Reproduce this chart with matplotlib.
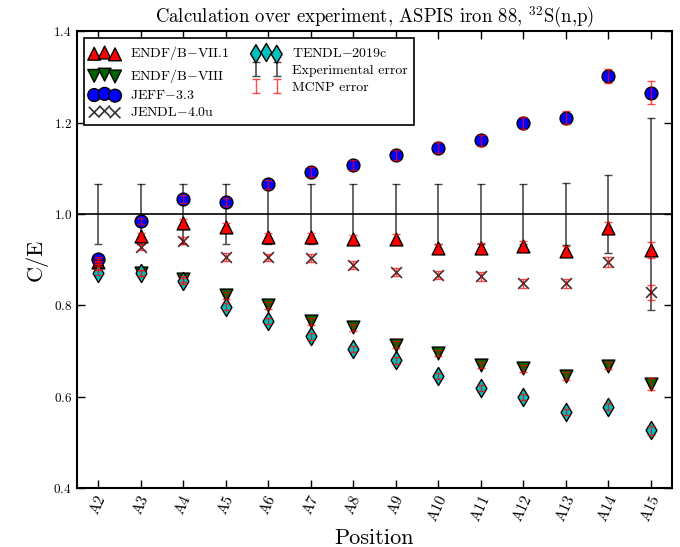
import numpy as np
import matplotlib
matplotlib.use("Agg")
import matplotlib.pyplot as plt

plt.rcParams["font.family"] = "serif"
plt.rcParams["font.serif"] = ["cmr10"]
plt.rcParams["mathtext.fontset"] = "cm"
plt.rcParams["axes.formatter.use_mathtext"] = True

positions = ["A2", "A3", "A4", "A5", "A6", "A7", "A8", "A9",
             "A10", "A11", "A12", "A13", "A14", "A15"]

endf71 = [0.895, 0.951, 0.981, 0.972, 0.950, 0.949, 0.945, 0.946,
          0.925, 0.925, 0.930, 0.919, 0.970, 0.921]
endf8 = [0.885, 0.871, 0.857, 0.822, 0.800, 0.765, 0.752, 0.714,
         0.695, 0.669, 0.662, 0.645, 0.668, 0.628]
jeff33 = [0.901, 0.984, 1.032, 1.026, 1.065, 1.091, 1.107, 1.129,
          1.145, 1.161, 1.198, 1.211, 1.302, 1.265]
jendl4 = [0.892, 0.928, 0.941, 0.906, 0.905, 0.903, 0.889, 0.872,
          0.866, 0.863, 0.848, 0.848, 0.894, 0.828]
tendl19 = [0.871, 0.870, 0.853, 0.797, 0.766, 0.732, 0.704, 0.679,
           0.646, 0.618, 0.600, 0.566, 0.578, 0.526]

exp_err = [0.065, 0.065, 0.065, 0.065, 0.065, 0.065, 0.065, 0.065,
           0.065, 0.065, 0.065, 0.068, 0.086, 0.21]
# relative MCNP statistical error per position
mcnp_rel = [0.006, 0.007, 0.008, 0.009, 0.009, 0.010, 0.010, 0.010,
            0.010, 0.011, 0.011, 0.012, 0.012, 0.020]

libs = [
    ("ENDF/B$-$VII.1", endf71, "^", "red"),
    ("ENDF/B$-$VIII", endf8, "v", "darkgreen"),
    ("JEFF$-$3.3", jeff33, "o", "blue"),
    ("JENDL$-$4.0u", jendl4, "x", "black"),
    ("TENDL$-$2019c", tendl19, "d", "c"),
]

fig = plt.figure(figsize=(6.8, 5.47), dpi=100)
ax = fig.add_axes([0.113, 0.108, 0.875, 0.835])

x = np.arange(len(positions))
ax.axhline(1.0, color="black", lw=1.2, zorder=1)
exp_h = ax.errorbar(x, np.ones(len(x)), yerr=exp_err, fmt="none",
                    ecolor="black", elinewidth=1.2, capsize=3, alpha=0.7,
                    zorder=2, label="Experimental error")

for name, vals, mk, col in libs:
    vals = np.array(vals)
    if mk == "x":
        ax.scatter(x, vals, marker=mk, s=60, color=col, linewidths=1.2,
                   alpha=0.8, zorder=3, label=name)
    else:
        ax.scatter(x, vals, marker=mk, s=85, facecolor=col,
                   edgecolor="black", linewidths=1.0, zorder=3, label=name)
    mcnp_h = ax.errorbar(x, vals, yerr=vals * np.array(mcnp_rel), fmt="none",
                         ecolor="red", elinewidth=1.0, capsize=3, alpha=0.7,
                         zorder=4)

handles, labels = ax.get_legend_handles_labels()
order = [labels.index(l[0]) for l in libs]
h = [handles[i] for i in order] + [exp_h, mcnp_h]
l = [labels[i] for i in order] + ["Experimental error", "MCNP error"]
leg = ax.legend(h, l, loc="upper left", ncol=2, fontsize=10, numpoints=2,
                scatterpoints=3, fancybox=False, edgecolor="black",
                framealpha=1, handlelength=2.1, handletextpad=0.8,
                labelspacing=0.3, columnspacing=1.6, borderpad=0.45)
leg.get_frame().set_linewidth(1.2)

ax.set_xlim(-0.5, len(x) - 0.5)
ax.set_ylim(0.4, 1.4)
ax.set_yticks([0.4, 0.6, 0.8, 1.0, 1.2, 1.4])
ax.set_xticks(x)
ax.set_xticklabels(positions, rotation=65, fontsize=11)
ax.tick_params(axis="y", labelsize=9.5)
ax.tick_params(direction="in", top=True, right=True, length=6, width=1)
for s in ax.spines.values():
    s.set_linewidth(1.5)

ax.set_title(r"Calculation over experiment, ASPIS iron 88, $^{32}$S(n,p)",
             fontsize=13.5)
ax.set_xlabel("Position", fontsize=16)
ax.set_ylabel("C/E", fontsize=16)

fig.savefig("out.png", dpi=100)
